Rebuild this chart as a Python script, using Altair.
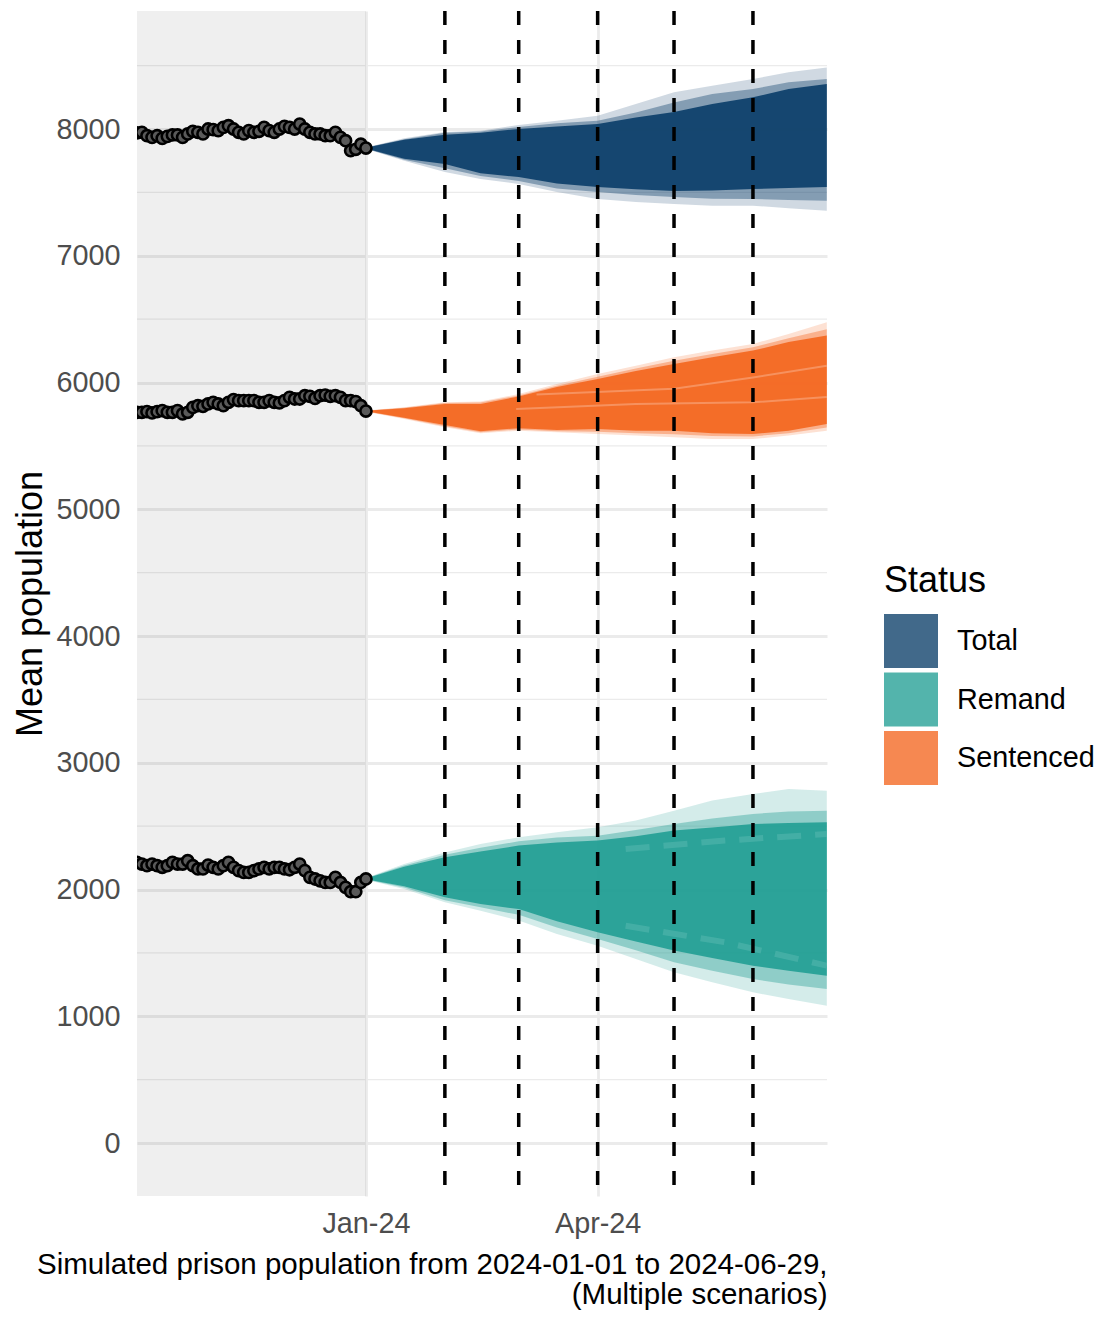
import altair as alt
import pandas as pd

# ---------------- data ----------------
statuses = ["Total", "Remand", "Sentenced"]
colors = ["#12436D", "#28A197", "#F46A25"]

# historical observations (every 2 days, 2023-10-03 .. 2024-01-01)
hist_dates = pd.date_range("2023-10-03", "2024-01-01", freq="2D").strftime("%Y-%m-%d").tolist()
total_hist = [7970, 7974, 7947, 7934, 7947, 7926, 7942, 7953, 7953, 7934,
              7961, 7982, 7974, 7961, 8000, 7995, 7987, 8013, 8026, 8000,
              7974, 7961, 7987, 7974, 7982, 8013, 7987, 7974, 8000, 8021,
              8013, 8000, 8039, 8000, 7974, 7961, 7961, 7947, 7947, 7974,
              7934, 7908, 7829, 7840, 7880, 7850]
sentenced_hist = [5765, 5765, 5770, 5760, 5770, 5778, 5765, 5765, 5778, 5752,
                  5765, 5804, 5817, 5812, 5831, 5844, 5831, 5817, 5844, 5865,
                  5857, 5857, 5857, 5857, 5844, 5844, 5857, 5844, 5839, 5857,
                  5883, 5870, 5870, 5896, 5891, 5875, 5896, 5901, 5891, 5896,
                  5883, 5857, 5857, 5849, 5817, 5775]
remand_hist = [2214, 2201, 2188, 2201, 2188, 2175, 2188, 2214, 2201, 2201,
               2227, 2188, 2162, 2162, 2193, 2175, 2162, 2188, 2214, 2175,
               2149, 2135, 2135, 2149, 2162, 2175, 2162, 2175, 2175, 2162,
               2156, 2175, 2201, 2149, 2096, 2083, 2069, 2056, 2056, 2096,
               2056, 2017, 1983, 1983, 2056, 2083]

# simulated fan bands
fan_dates = ["2024-01-01", "2024-01-16", "2024-02-01", "2024-02-15", "2024-03-01",
             "2024-03-16", "2024-04-01", "2024-04-16", "2024-05-01", "2024-05-16",
             "2024-06-01", "2024-06-15", "2024-06-30"]

total_outer_hi = [7855, 7927, 7976, 7987, 8032, 8066, 8105, 8197, 8289, 8342, 8394, 8447, 8486]
total_outer_lo = [7845, 7750, 7660, 7606, 7566, 7503, 7448, 7424, 7408, 7395, 7395, 7374, 7356]
total_mid_hi = [7855, 7920, 7970, 7980, 8015, 8045, 8066, 8130, 8210, 8276, 8315, 8368, 8394]
total_mid_lo = [7845, 7758, 7690, 7630, 7590, 7530, 7503, 7480, 7463, 7450, 7448, 7440, 7434]
total_inner_hi = [7853, 7915, 7955, 7970, 8000, 8020, 8040, 8090, 8134, 8197, 8250, 8315, 8355]
total_inner_lo = [7847, 7765, 7724, 7650, 7621, 7570, 7542, 7525, 7511, 7515, 7526, 7535, 7542]

sent_outer_hi = [5780, 5804, 5844, 5850, 5909, 5988, 6067, 6133, 6199, 6252, 6304, 6383, 6475]
sent_outer_lo = [5770, 5712, 5647, 5600, 5620, 5607, 5594, 5581, 5568, 5554, 5554, 5581, 5620]
sent_mid_hi = [5778, 5800, 5838, 5842, 5898, 5975, 6045, 6110, 6172, 6225, 6278, 6350, 6420]
sent_mid_lo = [5772, 5718, 5655, 5608, 5630, 5616, 5612, 5600, 5592, 5578, 5575, 5600, 5645]
sent_inner_hi = [5777, 5796, 5830, 5830, 5890, 5965, 6028, 6090, 6146, 6200, 6252, 6320, 6370]
sent_inner_lo = [5773, 5722, 5665, 5615, 5640, 5625, 5633, 5620, 5620, 5600, 5594, 5620, 5673]

rem_outer_hi = [2090, 2201, 2293, 2359, 2412, 2452, 2491, 2544, 2622, 2702, 2753, 2793, 2780]
rem_outer_lo = [2078, 2004, 1899, 1833, 1755, 1649, 1557, 1452, 1347, 1268, 1189, 1136, 1083]
rem_mid_hi = [2088, 2190, 2275, 2330, 2380, 2410, 2425, 2470, 2517, 2560, 2596, 2615, 2622]
rem_mid_lo = [2080, 2015, 1915, 1860, 1800, 1700, 1609, 1520, 1426, 1360, 1294, 1250, 1215]
rem_inner_hi = [2087, 2180, 2254, 2300, 2347, 2370, 2386, 2420, 2465, 2490, 2517, 2525, 2530]
rem_inner_lo = [2081, 2025, 1938, 1885, 1846, 1750, 1662, 1590, 1518, 1460, 1399, 1360, 1320]

# scenario streaks inside fans
sent_streak_dates = ["2024-03-08", "2024-05-01", "2024-06-01", "2024-06-30"]
sent_streak_a = [5905, 5950, 6040, 6133]
sent_streak_b_dates = ["2024-02-29", "2024-04-16", "2024-06-01", "2024-06-30"]
sent_streak_b = [5791, 5830, 5844, 5886]
rem_dash_dates = ["2024-04-12", "2024-05-21", "2024-06-30"]
rem_dash_hi = [2320, 2386, 2438]
rem_dash_lo = [1714, 1584, 1399]

month_lines = ["2024-02-01", "2024-03-01", "2024-04-01", "2024-05-01", "2024-06-01"]
minor_y = [500, 1500, 2500, 3500, 4500, 5500, 6500, 7500, 8500]
y_ticks = [0, 1000, 2000, 3000, 4000, 5000, 6000, 7000, 8000]
x_tick_dates = ["2024-01-01", "2024-04-01"]
x_title = ["Simulated prison population from 2024-01-01 to 2024-06-29,", "(Multiple scenarios)"]

# ---------------- tables ----------------
def ms(s):
    return int(pd.Timestamp(s, tz="UTC").value // 10**6)

hist_df = pd.concat([
    pd.DataFrame({"date": hist_dates, "v": total_hist, "grp": "Total"}),
    pd.DataFrame({"date": hist_dates, "v": sentenced_hist, "grp": "Sentenced"}),
    pd.DataFrame({"date": hist_dates, "v": remand_hist, "grp": "Remand"}),
])

def band(lo_t, hi_t, lo_s, hi_s, lo_r, hi_r):
    return pd.concat([
        pd.DataFrame({"date": fan_dates, "lo": lo_t, "hi": hi_t, "status": "Total"}),
        pd.DataFrame({"date": fan_dates, "lo": lo_r, "hi": hi_r, "status": "Remand"}),
        pd.DataFrame({"date": fan_dates, "lo": lo_s, "hi": hi_s, "status": "Sentenced"}),
    ])

outer_df = band(total_outer_lo, total_outer_hi, sent_outer_lo, sent_outer_hi, rem_outer_lo, rem_outer_hi)
mid_df = band(total_mid_lo, total_mid_hi, sent_mid_lo, sent_mid_hi, rem_mid_lo, rem_mid_hi)
inner_df = band(total_inner_lo, total_inner_hi, sent_inner_lo, sent_inner_hi, rem_inner_lo, rem_inner_hi)

streak_df = pd.concat([
    pd.DataFrame({"date": sent_streak_dates, "v": sent_streak_a, "grp": "a"}),
    pd.DataFrame({"date": sent_streak_b_dates, "v": sent_streak_b, "grp": "b"}),
])
dash_df = pd.concat([
    pd.DataFrame({"date": rem_dash_dates, "v": rem_dash_hi, "grp": "hi"}),
    pd.DataFrame({"date": rem_dash_dates, "v": rem_dash_lo, "grp": "lo"}),
])

# ---------------- scales / axes ----------------
FONT = "Liberation Sans"
W, H = 690, 1185
x_scale = alt.Scale(type="utc", domain=[ms("2023-10-03 02:00"), ms("2024-06-30 02:00")])
y_scale = alt.Scale(domain=[-418, 8931], nice=False, zero=False)

x_axis = alt.Axis(values=[ms(d) for d in x_tick_dates], format="%b-%y",
                  labelFontSize=28.8, labelColor="#4d4d4d", labelPadding=13, labelFont=FONT,
                  ticks=False, domain=False, grid=True, gridColor="#ebebeb", gridWidth=2.8,
                  title=x_title, titleFontSize=29.5, titleFontWeight="normal", titleColor="black",
                  titleFont=FONT, titleAnchor="end", titleAlign="right", titlePadding=13,
                  titleLineHeight=30)
y_axis = alt.Axis(values=y_ticks, format="d", labelFontSize=28.8, labelColor="#4d4d4d",
                  labelPadding=17, labelFont=FONT, ticks=False, domain=False, grid=True,
                  gridColor="#ebebeb", gridWidth=2.8, title="Mean population",
                  titleFontSize=36, titleFontWeight="normal", titleColor="black",
                  titleFont=FONT, titlePadding=6)

def X(f):
    return alt.X(f"{f}:T", scale=x_scale, axis=x_axis)

def Y(f):
    return alt.Y(f"{f}:Q", scale=y_scale, axis=y_axis)

legend = alt.Legend(title="Status", orient="none", legendX=747, legendY=553,
                    symbolType="square", symbolSize=2916, symbolOpacity=0.8,
                    symbolStrokeWidth=0, titleFontSize=36, titleFontWeight="normal",
                    titleColor="black", titleFont=FONT, labelFontSize=28.8,
                    labelColor="black", labelFont=FONT, labelOffset=19, rowPadding=4.5,
                    titlePadding=14, padding=0)
color = alt.Color("status:N", scale=alt.Scale(domain=statuses, range=colors), legend=legend)

# ---------------- layers ----------------
minor = alt.Chart(pd.DataFrame({"y": minor_y})).mark_rule(
    color="#ebebeb", strokeWidth=1.4).encode(y=Y("y"))

shade = alt.Chart(pd.DataFrame({"x0": ["2023-09-01"], "x1": ["2024-01-01"]})).mark_rect(
    color="black", opacity=0.063, clip=True).encode(x=X("x0"), x2="x1")

outer = alt.Chart(outer_df).mark_area(opacity=0.2, clip=True).encode(
    x=X("date"), y=Y("lo"), y2="hi", color=color)
mid = alt.Chart(mid_df).mark_area(opacity=0.4, clip=True).encode(
    x=X("date"), y=Y("lo"), y2="hi", color=color)
inner = alt.Chart(inner_df).mark_area(opacity=0.97, clip=True).encode(
    x=X("date"), y=Y("lo"), y2="hi", color=color)

streaks = alt.Chart(streak_df).mark_line(color="white", opacity=0.25, strokeWidth=2, clip=True).encode(
    x=X("date"), y=Y("v"), detail="grp:N")
dashes = alt.Chart(dash_df).mark_line(color="#5fbdb4", opacity=0.45, strokeWidth=6,
                                      strokeDash=[24, 14], clip=True).encode(
    x=X("date"), y=Y("v"), detail="grp:N")

vlines = alt.Chart(pd.DataFrame({"d": month_lines})).mark_rule(
    color="black", strokeWidth=3.5, strokeDash=[14, 15]).encode(x=X("d"))

hline = alt.Chart(hist_df).mark_line(color="black", strokeWidth=2, clip=True).encode(
    x=X("date"), y=Y("v"), detail="grp:N")
hpts = alt.Chart(hist_df).mark_point(shape="circle", filled=True, fill="#5a5a5a",
                                     stroke="black", strokeWidth=2.6, size=125,
                                     opacity=1, clip=True).encode(
    x=X("date"), y=Y("v"))

chart = alt.layer(minor, shade, outer, mid, inner, streaks, dashes, vlines, hline, hpts).properties(
    width=W, height=H,
    padding={"left": 129, "top": 3, "right": 269, "bottom": 114},
    autosize=alt.AutoSizeParams(type="none"),
).configure_view(stroke=None)

chart.save("out.html", embed_options={"renderer": "svg", "actions": False})
